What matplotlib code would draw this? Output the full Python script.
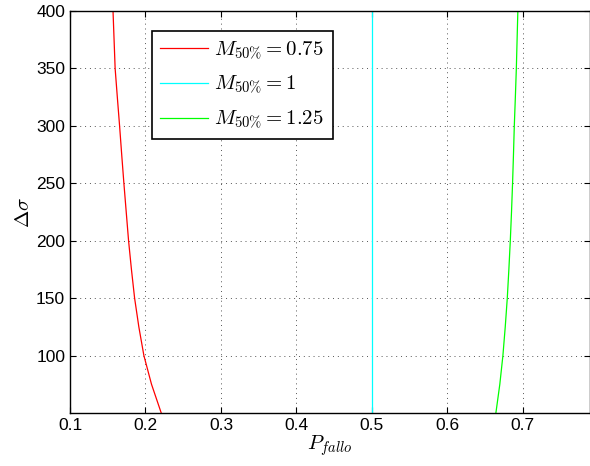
import numpy as np
import matplotlib.pyplot as plt

plt.rcParams['mathtext.fontset'] = 'cm'
plt.rcParams['font.family'] = ['Liberation Sans', 'DejaVu Sans']

# values
ds = [400, 375, 350, 325, 300, 275, 250, 225, 200, 175, 150, 125, 100, 75, 50]
pf_075 = [0.157, 0.1584, 0.1598, 0.1627, 0.1657, 0.1685, 0.1714, 0.1745,
          0.1776, 0.1814, 0.1856, 0.1912, 0.1979, 0.2080, 0.2209]
pf_100 = [0.5] * len(ds)
pf_125 = [0.6934, 0.6924, 0.6914, 0.6901, 0.6887, 0.6876, 0.6864, 0.6850,
          0.6834, 0.6815, 0.6794, 0.6767, 0.6736, 0.6695, 0.6643]

fig = plt.figure(figsize=(5.9, 4.66), dpi=100)
ax = fig.add_axes([70/590, 53/466, 520/590, 402/466])

ax.plot(pf_075, ds, color=(1, 0, 0), lw=0.9, label=r'$M_{50\%} = 0.75$')
ax.plot(pf_100, ds, color=(0, 1, 1), lw=0.9, label=r'$M_{50\%} = 1$')
ax.plot(pf_125, ds, color=(0, 1, 0), lw=0.9, label=r'$M_{50\%} = 1.25$')

ax.set_xlim(0.1, 0.789)
ax.set_ylim(50, 400)
ax.set_xticks(np.arange(0.1, 0.71, 0.1))
ax.set_yticks(np.arange(100, 401, 50))
ax.grid(True, linestyle=(0, (1, 4)), color='#555555', lw=0.7)
ax.tick_params(direction='in', top=True, right=True, labelsize=12.5, length=4)
for s in ax.spines.values():
    s.set_linewidth(1.0)

ax.set_xlabel(r'$P_{fallo}$', fontsize=15, labelpad=0)
ax.set_ylabel(r'$\Delta\sigma$', fontsize=15, labelpad=2)

leg = ax.legend(loc='upper left', bbox_to_anchor=(82/520, 1 - 20/402), fontsize=15,
                fancybox=False, framealpha=1, edgecolor='black', borderaxespad=0,
                handlelength=2.3, borderpad=0.4, labelspacing=0.6, handletextpad=0.3)
leg.get_frame().set_linewidth(1.2)

fig.savefig('out.png', dpi=100)
